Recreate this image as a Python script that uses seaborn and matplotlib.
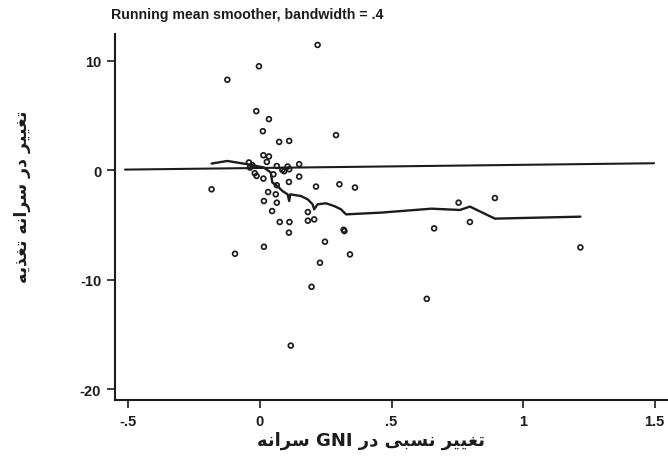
import numpy as np
import pandas as pd
import matplotlib
matplotlib.use("Agg")
import matplotlib.pyplot as plt
import seaborn as sns
from matplotlib import font_manager
from matplotlib.ft2font import FT2Font

# ---------------- data ----------------
pts_x = [0.219, -0.004, -0.124, -0.014, 0.034, 0.011, 0.073, 0.111, 0.289,
         0.013, 0.034, 0.026, -0.042, -0.029, -0.038, -0.020, -0.013, 0.013,
         0.051, 0.064, 0.085, 0.092, 0.105, 0.111, 0.149, -0.184, 0.110,
         0.149, 0.064, 0.213, 0.302, 0.361, 0.031, 0.060, 0.015, 0.064,
         0.046, 0.075, 0.112, 0.182, 0.182, 0.206, 0.110, 0.321, 0.318,
         0.247, 0.015, -0.095, 0.342, 0.228, 0.196, 0.117, 0.755, 0.893,
         0.662, 0.798, 1.218, 0.634]
pts_y = [11.44, 9.49, 8.26, 5.39, 4.66, 3.56, 2.58, 2.67, 3.20,
         1.36, 1.25, 0.75, 0.70, 0.45, 0.24, -0.28, -0.53, -0.77,
         -0.38, 0.38, 0.02, -0.10, 0.33, 0.08, 0.54, -1.75, -1.08,
         -0.59, -1.38, -1.50, -1.29, -1.59, -2.00, -2.21, -2.82, -2.97,
         -3.74, -4.74, -4.74, -3.83, -4.62, -4.50, -5.71, -5.57, -5.45,
         -6.54, -7.00, -7.64, -7.70, -8.46, -10.66, -16.03, -2.97, -2.55,
         -5.32, -4.74, -7.06, -11.76]

smooth_x = [-0.184, -0.124, -0.048, 0.015, 0.041, 0.047, 0.066, 0.085, 0.105,
            0.111, 0.115, 0.155, 0.181, 0.200, 0.206, 0.219, 0.251, 0.282,
            0.308, 0.327, 0.461, 0.652, 0.760, 0.798, 0.893, 1.218]
smooth_y = [0.60, 0.84, 0.54, 0.24, -0.22, -1.14, -1.45, -1.90, -2.21,
            -2.82, -2.21, -2.36, -2.66, -3.12, -3.58, -3.12, -3.03, -3.28,
            -3.58, -4.04, -3.88, -3.52, -3.64, -3.33, -4.43, -4.25]

ref_x = [-0.513, 1.498]
ref_y = [0.05, 0.63]

xticks = [-0.5, 0, 0.5, 1, 1.5]
xtick_labels = ["-.5", "0", ".5", "1", "1.5"]
yticks = [-20, -10, 0, 10]
ytick_labels = ["-20", "-10", "0", "10"]

title = "Running mean smoother, bandwidth = .4"
xlabel = "تغییر نسبی در GNI سرانه"
ylabel = "تغییر در سرانه تغذیه"

# ---------------- minimal Persian shaping (matplotlib has no CTL) ----------------
FORMS = {
    'ا': ('\uFE8D', '\uFE8E', None, None),
    'ب': ('\uFE8F', '\uFE90', '\uFE91', '\uFE92'),
    'ت': ('\uFE95', '\uFE96', '\uFE97', '\uFE98'),
    'د': ('\uFEA9', '\uFEAA', None, None),
    'ذ': ('\uFEAB', '\uFEAC', None, None),
    'ر': ('\uFEAD', '\uFEAE', None, None),
    'س': ('\uFEB1', '\uFEB2', '\uFEB3', '\uFEB4'),
    'غ': ('\uFECD', '\uFECE', '\uFECF', '\uFED0'),
    'ن': ('\uFEE5', '\uFEE6', '\uFEE7', '\uFEE8'),
    'ه': ('\uFEE9', '\uFEEA', '\uFEEB', '\uFEEC'),
    'ی': ('\uFBFC', '\uFBFD', '\uFBFE', '\uFBFF'),
}


def pick_font(weight):
    path = font_manager.findfont(font_manager.FontProperties(family="DejaVu Sans", weight=weight))
    return set(FT2Font(path).get_charmap().keys())


cmap_bold = pick_font("bold")
ar_weight = "bold" if all(ord(f) in cmap_bold for v in FORMS.values() for f in v if f) else "normal"
cmap_use = cmap_bold if ar_weight == "bold" else pick_font("normal")
if any(ord(f) not in cmap_use for f in FORMS['ی']):
    FORMS['ی'] = ('\uFEEF', '\uFEF0', '\uFEF3', '\uFEF4')


def shape_word(w):
    out = []
    for i, c in enumerate(w):
        if c not in FORMS:
            out.append(c)
            continue
        iso, fin, ini, med = FORMS[c]
        prev_j = i > 0 and w[i - 1] in FORMS and FORMS[w[i - 1]][2] is not None
        next_j = i < len(w) - 1 and w[i + 1] in FORMS and ini is not None
        if prev_j and next_j:
            out.append(med)
        elif prev_j:
            out.append(fin)
        elif next_j:
            out.append(ini)
        else:
            out.append(iso)
    return "".join(out)


def rtl(text):
    words = text.split(" ")
    vis = []
    for w in words:
        if any(c in FORMS for c in w):
            vis.append(shape_word(w)[::-1])
        else:
            vis.append(w)
    return " ".join(vis[::-1])


# ---------------- plot ----------------
sns.set_style("ticks")
plt.rcParams["font.family"] = ["Liberation Sans", "DejaVu Sans"]

ink = "#1c1c1c"
fig = plt.figure(figsize=(6.68, 4.64), dpi=100)
ax = fig.add_axes([0.1722, 0.1358, 0.8278, 0.7888])

sns.lineplot(x=ref_x, y=ref_y, sort=False, estimator=None, color=ink, lw=1.5, ax=ax)
sns.lineplot(x=smooth_x, y=smooth_y, sort=False, estimator=None, color=ink, lw=1.7, ax=ax)
sns.scatterplot(x=pts_x, y=pts_y, marker="o", s=12, facecolors="none",
                edgecolor=ink, linewidth=1.25, ax=ax, zorder=3)

ax.set_xlim(-0.551, 1.551)
ax.set_ylim(-21.0, 12.44)
ax.set_xticks(xticks)
ax.set_xticklabels(xtick_labels)
ax.set_yticks(yticks)
ax.set_yticklabels(ytick_labels)
for lab in ax.get_xticklabels() + ax.get_yticklabels():
    lab.set_fontweight("bold")
    lab.set_fontsize(10.5)
    lab.set_color(ink)
ax.tick_params(direction="out", length=6, width=1.2, color=ink, pad=4)
sns.despine(ax=ax)
for s in ["left", "bottom"]:
    ax.spines[s].set_linewidth(1.5)
    ax.spines[s].set_color(ink)
ax.set_xlabel("")
ax.set_ylabel("")

fig.text(111 / 668, 1 - 15 / 464, title, ha="left", va="center",
         fontsize=10.2, fontweight="bold", color=ink, family="Liberation Sans")
fig.text(371 / 668, 1 - 441 / 464, rtl(xlabel), ha="center", va="center",
         fontsize=13, fontweight=ar_weight, color=ink, family=["DejaVu Sans"])
fig.text(22 / 668, 1 - 197 / 464, rtl(ylabel), ha="center", va="center", rotation=90,
         fontsize=12.5, fontweight=ar_weight, color=ink, family=["DejaVu Sans"])

fig.savefig("out.png", dpi=100)
